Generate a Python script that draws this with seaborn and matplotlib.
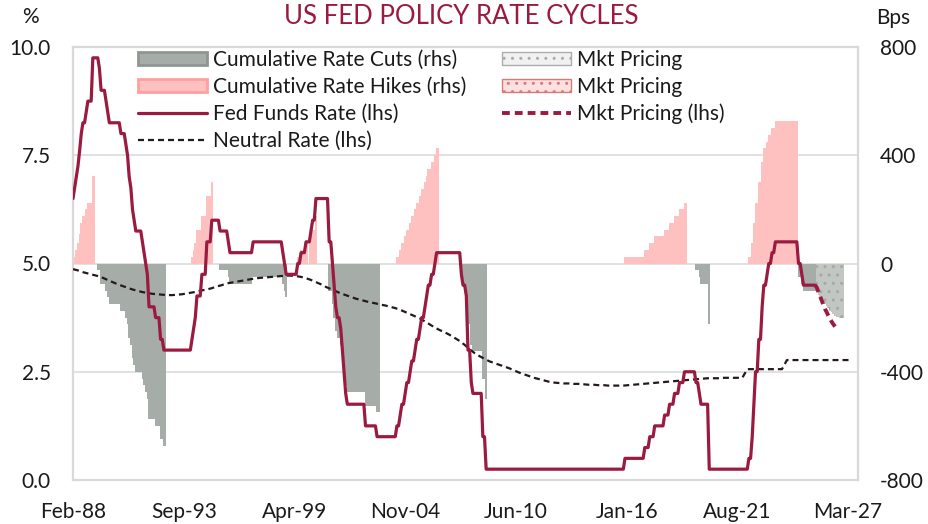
import numpy as np
import pandas as pd
import matplotlib
matplotlib.use('Agg')
import matplotlib.pyplot as plt
from matplotlib.patches import Patch
from matplotlib.lines import Line2D
import seaborn as sns

# x axis is a monthly index, 0 = Feb-88
tick_labels = ['Feb-88', 'Sep-93', 'Apr-99', 'Nov-04', 'Jun-10', 'Jan-16', 'Aug-21', 'Mar-27']
tick_pos = [0, 67, 134, 201, 268, 335, 402, 469]

# Fed funds rate (upper bound), month end, Feb-88 .. Jul-25
fed_funds = (
    [6.5, 6.75, 7.0, 7.25, 7.6, 8.0, 8.25, 8.25, 8.5, 8.75, 8.75]             # 1988
    + [8.75, 9.75, 9.75, 9.75, 9.75, 9.5, 9.0, 9.0, 9.0, 8.75, 8.5, 8.25]    # 1989
    + [8.25, 8.25, 8.25, 8.25, 8.25, 8.25, 8.0, 8.0, 8.0, 7.75, 7.5, 7.0]    # 1990
    + [6.75, 6.25, 6.0, 5.75, 5.75, 5.75, 5.75, 5.5, 5.25, 5.0, 4.75, 4.0]   # 1991
    + [4.0, 4.0, 4.0, 3.75, 3.75, 3.75, 3.25, 3.25, 3.0, 3.0, 3.0, 3.0]      # 1992
    + [3.0] * 12                                                              # 1993
    + [3.0, 3.25, 3.5, 3.75, 4.25, 4.25, 4.25, 4.75, 4.75, 4.75, 5.5, 5.5]   # 1994
    + [5.5, 6.0, 6.0, 6.0, 6.0, 6.0, 5.75, 5.75, 5.75, 5.75, 5.75, 5.5]      # 1995
    + [5.25] * 12                                                             # 1996
    + [5.25, 5.25] + [5.5] * 10                                               # 1997
    + [5.5] * 8 + [5.25, 5.0, 4.75, 4.75]                                     # 1998
    + [4.75] * 5 + [5.0, 5.0, 5.25, 5.25, 5.25, 5.5, 5.5]                     # 1999
    + [5.5, 5.75, 6.0, 6.0] + [6.5] * 8                                       # 2000
    + [5.5, 5.5, 5.0, 4.5, 4.0, 3.75, 3.75, 3.5, 3.0, 2.5, 2.0, 1.75]        # 2001
    + [1.75] * 10 + [1.25, 1.25]                                              # 2002
    + [1.25] * 5 + [1.0] * 7                                                  # 2003
    + [1.0] * 5 + [1.25, 1.25, 1.5, 1.75, 1.75, 2.0, 2.25]                    # 2004
    + [2.25, 2.5, 2.75, 2.75, 3.0, 3.25, 3.25, 3.5, 3.75, 3.75, 4.0, 4.25]   # 2005
    + [4.5, 4.5, 4.75, 4.75, 5.0] + [5.25] * 7                                # 2006
    + [5.25] * 8 + [4.75, 4.5, 4.5, 4.25]                                     # 2007
    + [3.0, 3.0, 2.25, 2.0, 2.0, 2.0, 2.0, 2.0, 2.0, 1.0, 1.0, 0.25]         # 2008
    + [0.25] * 72                                                             # 2009-14
    + [0.25] * 11 + [0.5]                                                     # 2015
    + [0.5] * 11 + [0.75]                                                     # 2016
    + [0.75, 0.75, 1.0, 1.0, 1.0] + [1.25] * 6 + [1.5]                        # 2017
    + [1.5, 1.5, 1.75, 1.75, 1.75, 2.0, 2.0, 2.0, 2.25, 2.25, 2.25, 2.5]     # 2018
    + [2.5] * 6 + [2.25, 2.25, 2.0, 1.75, 1.75, 1.75]                         # 2019
    + [1.75, 1.75] + [0.25] * 10                                              # 2020
    + [0.25] * 12                                                             # 2021
    + [0.25, 0.25, 0.5, 0.5, 1.0, 1.75, 2.5, 2.5, 3.25, 3.25, 4.0, 4.5]      # 2022
    + [4.5, 4.75, 5.0, 5.0, 5.25, 5.25] + [5.5] * 6                           # 2023
    + [5.5] * 8 + [5.0, 5.0, 4.75, 4.5]                                       # 2024
    + [4.5] * 7                                                               # 2025
)

# market pricing for the funds rate, Jul-25 .. Aug-26
mkt_start = 449
mkt_pricing = [4.5, 4.45, 4.35, 4.25, 4.15, 4.05, 3.95, 3.88, 3.8, 3.73, 3.66, 3.6, 3.55, 3.5]

# neutral rate, quarterly readings from Feb-88
neutral = [
    4.87, 4.84, 4.80, 4.77, 4.74, 4.71, 4.67, 4.62, 4.57, 4.52, 4.48, 4.44, 4.40, 4.37, 4.34, 4.32, 4.30, 4.29, 4.28, 4.27,
    4.27, 4.28, 4.29, 4.31, 4.33, 4.35, 4.38, 4.40, 4.43, 4.47, 4.50, 4.54, 4.56, 4.58, 4.60, 4.62, 4.64, 4.66, 4.67, 4.68,
    4.69, 4.70, 4.71, 4.72, 4.72, 4.71, 4.69, 4.66, 4.62, 4.57, 4.52, 4.46, 4.41, 4.36, 4.31, 4.27, 4.23, 4.19, 4.16, 4.13,
    4.10, 4.08, 4.05, 4.03, 4.00, 3.97, 3.93, 3.88, 3.83, 3.78, 3.73, 3.66, 3.59, 3.52, 3.46, 3.41, 3.35, 3.28, 3.21, 3.12,
    3.02, 2.93, 2.86, 2.80, 2.74, 2.70, 2.66, 2.62, 2.58, 2.53, 2.48, 2.44, 2.40, 2.36, 2.33, 2.30, 2.27, 2.25, 2.24, 2.23,
    2.23, 2.22, 2.22, 2.21, 2.20, 2.20, 2.19, 2.19, 2.18, 2.18, 2.18, 2.18, 2.19, 2.20, 2.21, 2.22, 2.23, 2.24, 2.25, 2.26,
    2.27, 2.28, 2.29, 2.30, 2.31, 2.32, 2.33, 2.34, 2.35, 2.35, 2.35, 2.36, 2.36, 2.36, 2.36, 2.36,
    2.56, 2.56, 2.56, 2.56, 2.56, 2.56, 2.56, 2.56,
    2.77, 2.77, 2.77, 2.77, 2.77, 2.77, 2.77, 2.77, 2.77, 2.77, 2.77, 2.77, 2.77, 2.77,
]

# cumulative hikes / cuts in each cycle (bps), with the month they start
hikes_88 = [0, 25, 50, 75, 110, 150, 175, 175, 200, 225, 225, 225, 325, 325]
hikes_94 = [25, 50, 75, 125, 125, 125, 175, 175, 175, 250, 250, 250, 300]
hikes_99 = [25, 25, 50, 50, 50, 75, 75, 75, 100, 125, 125, 175]
hikes_04 = [25, 25, 50, 75, 75, 100, 125, 125, 150, 175, 175, 200, 225, 225, 250, 275, 275,
            300, 325, 350, 350, 375, 375, 400, 425, 425]
hikes_15 = [25] * 12 + [50] * 3 + [75] * 3 + [100] * 6 + [125] * 3 + [150] * 3 + [175] * 3 + [200] * 3 + [225, 225]
hikes_22 = [25, 25, 75, 150, 225, 225, 300, 300, 375, 425, 425, 450, 475, 475, 500, 500] + [525] * 14
hike_starts = [0, 72, 136, 196, 334, 409]

cuts_89 = ([-25, -25, -75, -75, -75, -100, -125, -150] + [-150] * 6 + [-175] * 3
           + [-200, -225, -275, -300, -350, -375] + [-400] * 4 + [-425, -450, -475, -500]
           + [-575] * 4 + [-600] * 3 + [-650, -650, -675, -675])
cuts_95 = [-25] * 5 + [-50] + [-75] * 14 + [-50] * 18 + [-75, -100, -125]
cuts_01 = ([-100, -100, -150, -200, -250, -275, -275, -300, -350, -400, -450, -475]
           + [-475] * 10 + [-525] * 7 + [-550, -550])
cuts_07 = [-50, -75, -75, -100, -225, -225, -300, -325, -325, -325, -325, -325, -325, -425, -425, -500]
cuts_19 = [-25, -25, -50, -75, -75, -75, -75, -75, -225]
cuts_24 = [-50, -50, -75, -100] + [-100] * 7
cut_starts = [15, 89, 155, 235, 377, 439]

# market pricing of further cuts (bps), Aug-25 .. Dec-26
cut_pricing_start = 450
cut_pricing = [-105, -115, -125, -135, -142, -150, -158, -166, -174, -181, -187, -193, -197, -199, -201, -202, -202]


def cycle_frame(starts, cycles):
    rows = []
    for s, vals in zip(starts, cycles):
        for i, v in enumerate(vals):
            rows.append({'month': s + i, 'bps': v})
    return pd.DataFrame(rows)


df_hikes = cycle_frame(hike_starts, [hikes_88, hikes_94, hikes_99, hikes_04, hikes_15, hikes_22])
df_cuts = cycle_frame(cut_starts, [cuts_89, cuts_95, cuts_01, cuts_07, cuts_19, cuts_24])
df_price = cycle_frame([cut_pricing_start], [cut_pricing])

RED = '#9b1b40'
DARK = '#231a1f'
GRID = '#d9d9d9'
CUT, CUT_EDGE = '#a6aca8', '#8f9692'
HIKE, HIKE_EDGE = '#ffc0c0', '#ff9f9f'

sns.set_theme(style='white')
plt.rcParams['font.family'] = ['Lato', 'DejaVu Sans']
plt.rcParams['hatch.linewidth'] = 1.0

fig = plt.figure(figsize=(9.29, 5.24), dpi=100)
ax = fig.add_axes([73 / 929, 1 - 480 / 524, 785 / 929, 433 / 524])
ax2 = ax.twinx()

# bars on the right-hand (bps) axis
bar_kw = dict(x='month', y='bps', native_scale=True, orient='x', ax=ax2,
              saturation=1, width=1.0, errorbar=None, linewidth=0)
sns.barplot(data=df_hikes, color=HIKE, **bar_kw)
sns.barplot(data=df_cuts, color=CUT, **bar_kw)
sns.barplot(data=df_price, color='#c3c7c4', hatch='..', edgecolor='#a3a9a5', **bar_kw)

# lines on the left-hand (%) axis
sns.lineplot(x=np.arange(0, 3 * len(neutral), 3), y=neutral, ax=ax, color=DARK, linewidth=1.6)
ax.lines[-1].set_dashes((2.7, 1.8))
sns.lineplot(x=np.arange(len(fed_funds)), y=fed_funds, ax=ax, color=RED, linewidth=2.3)
sns.lineplot(x=np.arange(mkt_start, mkt_start + len(mkt_pricing)), y=mkt_pricing, ax=ax,
             color=RED, linewidth=2.8)
ax.lines[-1].set_dashes((2.0, 1.3))

ax.set_zorder(ax2.get_zorder() + 1)
ax.patch.set_visible(False)

ax.set_xlim(0, 475)
ax.set_ylim(0, 10)
ax2.set_ylim(-800, 800)
ax.set_xticks(tick_pos)
ax.set_xticklabels(tick_labels)
ax.set_yticks([0, 2.5, 5, 7.5, 10])
ax.set_yticklabels(['0.0', '2.5', '5.0', '7.5', '10.0'])
ax2.set_yticks([-800, -400, 0, 400, 800])
ax2.set_yticklabels(['-800', '-400', '0', '400', '800'])
for a in (ax, ax2):
    a.set_xlabel('')
    a.set_ylabel('')
ax.tick_params(axis='both', length=0, pad=16, labelsize=15, colors='#1a1a1a')
ax2.tick_params(axis='y', length=0, pad=16, labelsize=15, colors='#1a1a1a')

ax2.set_axisbelow(True)
ax2.yaxis.grid(True, color=GRID, linewidth=1.1)
ax.grid(False)
for sp in ax.spines.values():
    sp.set_visible(False)
for sp in ax2.spines.values():
    sp.set_visible(True)
    sp.set_color(GRID)
    sp.set_linewidth(1.6)

fig.text(0.497, 1 - 17 / 524, 'US FED POLICY RATE CYCLES', color=RED, fontsize=18.5,
         ha='center', va='center')
fig.text(30 / 929, 1 - 17 / 524, '%', fontsize=15, ha='center', va='center', color='#1a1a1a')
fig.text(893 / 929, 1 - 18 / 524, 'Bps', fontsize=15, ha='center', va='center', color='#1a1a1a')

handles1 = [
    Patch(facecolor=CUT, edgecolor=CUT_EDGE, linewidth=2, label='Cumulative Rate Cuts (rhs)'),
    Patch(facecolor=HIKE, edgecolor=HIKE_EDGE, linewidth=2, label='Cumulative Rate Hikes (rhs)'),
    Line2D([], [], color=RED, linewidth=2.3, label='Fed Funds Rate (lhs)'),
    Line2D([], [], color=DARK, linewidth=1.6, dashes=(2.7, 1.8), label='Neutral Rate (lhs)'),
]
handles2 = [
    Patch(facecolor='#f0f1f0', edgecolor='#a9aeab', hatch='..', linewidth=1, label='Mkt Pricing'),
    Patch(facecolor='#fde1e1', edgecolor='#d77a7a', hatch='..', linewidth=1, label='Mkt Pricing'),
    Line2D([], [], color=RED, linewidth=2.8, dashes=(2.0, 1.3), label='Mkt Pricing (lhs)'),
]
leg_kw = dict(loc='upper left', frameon=False, fontsize=15, borderpad=0, borderaxespad=0,
              handlelength=3.3, handleheight=0.6, handletextpad=0.3, labelspacing=0.33,
              labelcolor='#1a1a1a')
fig.legend(handles=handles1, bbox_to_anchor=(138 / 929, 1 - 50 / 524), **leg_kw)
fig.legend(handles=handles2, bbox_to_anchor=(502 / 929, 1 - 50 / 524), **leg_kw)

fig.savefig('out.png', dpi=100)
